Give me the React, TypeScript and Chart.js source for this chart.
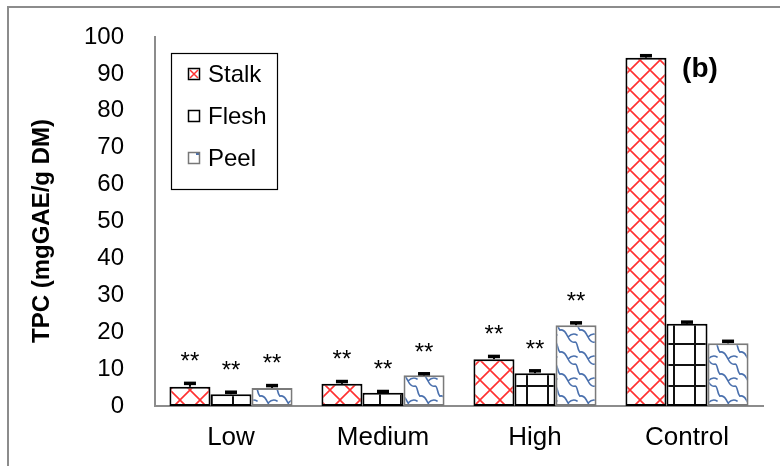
import React, { useEffect, useRef } from "react";
import { Chart, registerables } from "chart.js";
Chart.register(...registerables);

const categories = ["Low", "Medium", "High", "Control"];
const seriesNames = ["Stalk", "Flesh", "Peel"];
const stalkValues = [5.2, 6.0, 12.7, 94.4];
const fleshValues = [3.2, 3.6, 8.9, 22.3];
const peelValues = [4.9, 8.3, 21.9, 17.0];
const stalkErrors = [1.0, 0.7, 0.8, 0.6];
const fleshErrors = [0.6, 0.4, 0.7, 0.5];
const peelErrors = [0.7, 0.5, 0.7, 0.6];
const stalkSig = ["**", "**", "**", ""];
const fleshSig = ["**", "**", "**", ""];
const peelSig = ["**", "**", "**", ""];
const yMin = 0;
const yMax = 100;
const yStep = 10;
const yTitle = "TPC (mgGAE/g DM)";
const panelLabel = "(b)";

const FONT = '"Liberation Sans", Arial, sans-serif';

function makeStalkPattern(ctx: CanvasRenderingContext2D) {
  const c = document.createElement("canvas");
  c.width = 20;
  c.height = 20;
  const g = c.getContext("2d")!;
  g.fillStyle = "#ffffff";
  g.fillRect(0, 0, 20, 20);
  g.strokeStyle = "#ff3030";
  g.lineWidth = 1.6;
  for (const k of [-20, 0, 20]) {
    g.beginPath();
    g.moveTo(k, 0);
    g.lineTo(k + 20, 20);
    g.moveTo(k + 20, 0);
    g.lineTo(k, 20);
    g.stroke();
  }
  return ctx.createPattern(c, "repeat")!;
}

function makeFleshPattern(ctx: CanvasRenderingContext2D) {
  const c = document.createElement("canvas");
  c.width = 21;
  c.height = 21;
  const g = c.getContext("2d")!;
  g.fillStyle = "#ffffff";
  g.fillRect(0, 0, 21, 21);
  g.fillStyle = "#111111";
  g.fillRect(1, 0, 2, 21);
  g.fillRect(0, 7, 21, 2);
  return ctx.createPattern(c, "repeat")!;
}

function makePeelPattern(ctx: CanvasRenderingContext2D) {
  const W = 20;
  const H = 22;
  const c = document.createElement("canvas");
  c.width = W;
  c.height = H;
  const g = c.getContext("2d")!;
  g.fillStyle = "#ffffff";
  g.fillRect(0, 0, W, H);
  g.strokeStyle = "#4a70ad";
  g.lineWidth = 1.6;
  g.lineCap = "round";
  for (const dx of [-W, 0, W]) {
    for (const dy of [-H, 0, H]) {
      g.beginPath();
      g.moveTo(dx + 0, dy + 0);
      g.bezierCurveTo(dx + 4, dy - 1, dx + 6, dy + 3, dx + 8, dy + 7);
      g.bezierCurveTo(dx + 10, dy + 11, dx + 12, dy + 13, dx + 15, dy + 12);
      g.bezierCurveTo(dx + 18, dy + 12, dx + 17, dy + 20, dx + 20, dy + 22);
      g.moveTo(dx + 8, dy + 7);
      g.bezierCurveTo(dx + 11, dy + 4, dx + 14, dy + 3, dx + 17, dy + 5);
      g.stroke();
    }
  }
  return ctx.createPattern(c, "repeat")!;
}

export default function App() {
  const ref = useRef<HTMLCanvasElement | null>(null);

  useEffect(() => {
    document.body.style.margin = "0";
    const canvas = ref.current!;
    const ctx = canvas.getContext("2d")!;
    const stalkPat = makeStalkPattern(ctx);
    const fleshPat = makeFleshPattern(ctx);
    const peelPat = makePeelPattern(ctx);
    const errors = [stalkErrors, fleshErrors, peelErrors];
    const sigs = [stalkSig, fleshSig, peelSig];

    const overlay = {
      id: "overlay",
      beforeDraw(chart: any) {
        const c = chart.ctx;
        c.save();
        c.fillStyle = "#ffffff";
        c.fillRect(0, 0, chart.width, chart.height);
        c.restore();
      },
      afterDatasetsDraw(chart: any) {
        const c = chart.ctx;
        const ys = chart.scales.y;
        c.save();
        chart.data.datasets.forEach((ds: any, i: number) => {
          const meta = chart.getDatasetMeta(i);
          meta.data.forEach((el: any, j: number) => {
            const v = ds.data[j];
            const e = errors[i][j];
            const yTop = ys.getPixelForValue(v);
            const yErr = ys.getPixelForValue(v + e);
            c.fillStyle = "#000000";
            c.fillRect(el.x - 1, yErr, 2, yTop - yErr);
            c.fillRect(el.x - 6, yErr - 1.5, 12, 3.5);
            const s = sigs[i][j];
            if (s) {
              c.font = `24px ${FONT}`;
              c.textAlign = "center";
              c.textBaseline = "alphabetic";
              c.fillText(s, el.x, yErr - 14);
            }
          });
        });
        c.restore();
      },
      afterDraw(chart: any) {
        const c = chart.ctx;
        c.save();
        // outer frame (top and left visible)
        c.strokeStyle = "#8c8c8c";
        c.lineWidth = 2;
        c.beginPath();
        c.moveTo(8, 466);
        c.lineTo(8, 7);
        c.lineTo(780, 7);
        c.stroke();

        // y title
        c.save();
        c.translate(42, 231);
        c.rotate(-Math.PI / 2);
        c.font = `bold 24px ${FONT}`;
        c.fillStyle = "#000";
        c.textAlign = "center";
        c.textBaseline = "middle";
        c.fillText(yTitle, 0, 0);
        c.restore();

        // panel label
        c.font = `bold 28px ${FONT}`;
        c.fillStyle = "#000";
        c.textAlign = "center";
        c.textBaseline = "middle";
        c.fillText(panelLabel, 700, 69);

        // legend
        c.fillStyle = "#ffffff";
        c.fillRect(171, 53, 106, 136);
        c.strokeStyle = "#000";
        c.lineWidth = 1.2;
        c.strokeRect(171.5, 53.5, 106, 136);
        const rows = [74, 116, 158];
        seriesNames.forEach((name, i) => {
          const cy = rows[i];
          const sx = 188;
          const sy = cy - 6;
          c.fillStyle = "#fff";
          c.fillRect(sx, sy, 12, 12);
          if (i === 0) {
            c.strokeStyle = "#ff3030";
            c.lineWidth = 1.5;
            c.beginPath();
            c.moveTo(sx + 2, sy + 2);
            c.lineTo(sx + 10, sy + 10);
            c.moveTo(sx + 10, sy + 2);
            c.lineTo(sx + 2, sy + 10);
            c.stroke();
          }
          if (i === 2) {
            c.fillStyle = "#4a70ad";
            c.fillRect(sx + 8, sy + 1, 3, 2);
          }
          c.strokeStyle = i === 2 ? "#777" : "#000";
          c.lineWidth = 1.5;
          c.strokeRect(sx + 0.5, sy + 0.5, 11, 11);
          c.font = `24px ${FONT}`;
          c.fillStyle = "#000";
          c.textAlign = "left";
          c.textBaseline = "middle";
          c.fillText(name, 208, cy + 1);
        });
        c.restore();
      },
    };

    const chart = new Chart(canvas, {
      type: "bar",
      data: {
        labels: categories,
        datasets: [
          {
            label: seriesNames[0],
            data: stalkValues,
            backgroundColor: stalkPat as any,
            borderColor: "#000000",
            borderWidth: 2,
            borderSkipped: false,
          },
          {
            label: seriesNames[1],
            data: fleshValues,
            backgroundColor: fleshPat as any,
            borderColor: "#000000",
            borderWidth: 2,
            borderSkipped: false,
          },
          {
            label: seriesNames[2],
            data: peelValues,
            backgroundColor: peelPat as any,
            borderColor: "#7a7a7a",
            borderWidth: 2,
            borderSkipped: false,
          },
        ],
      },
      options: {
        responsive: false,
        animation: false,
        devicePixelRatio: 1,
        layout: { padding: { left: 0, top: 37, right: 17, bottom: 0 } },
        plugins: {
          legend: { display: false },
          tooltip: { enabled: false },
          title: { display: false },
        },
        datasets: {
          bar: { categoryPercentage: 0.81, barPercentage: 1.0 },
        },
        scales: {
          x: {
            offset: true,
            grid: { display: false, drawTicks: false },
            border: { display: true, color: "#8c8c8c", width: 2 },
            ticks: {
              color: "#000",
              font: { family: FONT, size: 26 },
              padding: 16,
              maxRotation: 0,
            },
            afterFit(scale: any) {
              scale.height = 60;
              scale.paddingLeft = 0;
              scale.paddingRight = 0;
            },
          },
          y: {
            min: yMin,
            max: yMax,
            grid: { display: false, drawTicks: false },
            border: { display: true, color: "#8c8c8c", width: 2 },
            ticks: {
              stepSize: yStep,
              color: "#000",
              font: { family: FONT, size: 24 },
              padding: 31,
            },
            afterFit(scale: any) {
              scale.width = 155;
              scale.paddingTop = 0;
              scale.paddingBottom = 0;
            },
          },
        },
      },
      plugins: [overlay],
    });
    return () => chart.destroy();
  }, []);

  return (
    <div style={{ width: 780, height: 466 }}>
      <canvas ref={ref} width={780} height={466} style={{ display: "block" }} />
    </div>
  );
}
